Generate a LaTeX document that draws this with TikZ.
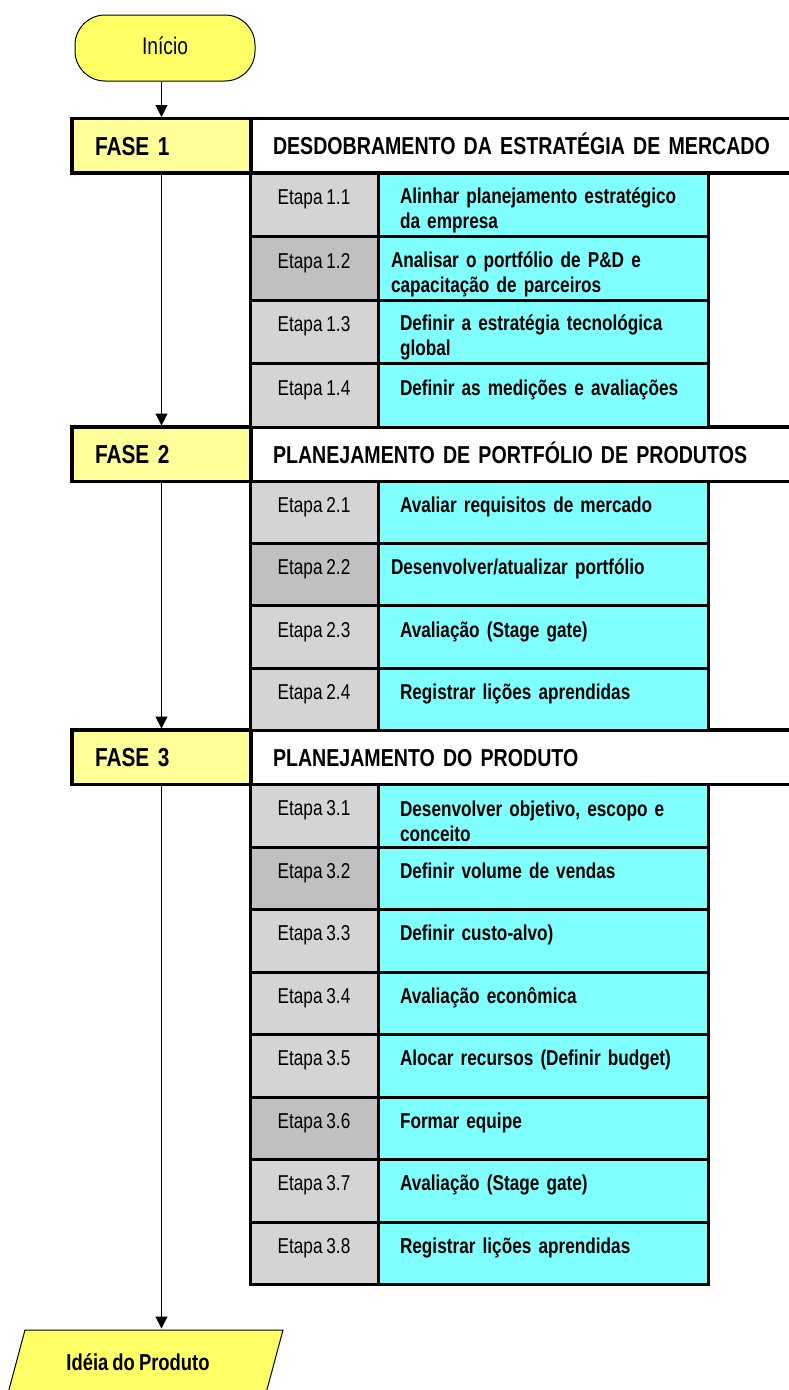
\documentclass[tikz,border=0pt]{standalone}
\usepackage{fontspec}
\setmainfont[FakeStretch=0.8, WordSpace=0.8]{Liberation Sans}
\usetikzlibrary{arrows.meta}
\setlength{\parindent}{0pt}

\definecolor{cinza}{HTML}{D4D4D4}
\definecolor{cinzaesc}{HTML}{C0C0C0}
\definecolor{ciano}{HTML}{80FFFF}
\definecolor{amarelo}{HTML}{FFFF66}
\definecolor{amareloclaro}{HTML}{FFFF99}

\tikzset{
  fase/.style={draw, line width=3.5pt, fill=amareloclaro, anchor=north west, outer sep=0pt,
    minimum height=54.5pt, inner xsep=23pt, inner ysep=0pt, text width=133pt, align=left,
    text height=18.5pt, text depth=0pt, font=\bfseries\fontsize{26}{30}\selectfont},
  titulo/.style={fase, fill=white, inner xsep=22pt, text width=540pt,
    text height=18pt, font=\bfseries\fontsize{24.5}{30}\selectfont},
  etapa/.style={draw, line width=3pt, fill=cinza, anchor=north west, outer sep=0pt, inner sep=0pt,
    minimum width=128pt, text height=18pt, text depth=18pt, font=\fontsize{21.5}{25}\selectfont},
  etapaesc/.style={etapa, fill=cinzaesc},
  passo/.style={draw, line width=3pt, fill=ciano, anchor=north west, outer sep=0pt,
    inner xsep=22pt, inner ysep=0pt, text width=286pt, align=left,
    font=\bfseries\fontsize{21.5}{25}\selectfont},
  umalinha/.style={text height=18pt, text depth=18pt},
  recuo/.style={inner xsep=13pt, text width=304pt},
  seta/.style={line width=1pt, -{Triangle[length=12pt, width=12pt]}, shorten >=1.5pt}
}

\begin{document}
\begin{tikzpicture}[x=1pt, y=-1pt]
  \useasboundingbox (0,0) rectangle (789,1390);

  \node[draw, line width=1pt, fill=amarelo, rounded corners=30pt, minimum width=180pt,
    minimum height=66pt, inner sep=0pt, text height=17pt, text depth=5pt,
    font=\fontsize{24}{28}\selectfont] (inicio) at (165,48) {Início};

  % fases
  \node[fase] (f1) at (72,118.5) {FASE 1};
  \node[titulo] (t1) at (251,118.5) {DESDOBRAMENTO DA ESTRATÉGIA DE MERCADO};
  \node[fase] (f2) at (72,427) {FASE 2};
  \node[titulo] (t2) at (251,427) {PLANEJAMENTO DE PORTFÓLIO DE PRODUTOS};
  \node[fase] (f3) at (72,730) {FASE 3};
  \node[titulo] (t3) at (251,730) {PLANEJAMENTO DO PRODUTO};

  % etapas da fase 1
  \begin{scope}[every node/.style={minimum height=63.5pt}]
    \node[etapa] (e11) at (250,173) {Etapa 1.1};
    \node[passo] (p11) at (378,173) {\rule{0pt}{27pt}Alinhar planejamento estratégico\\da empresa};
    \node[etapaesc] (e12) at (250,236.5) {Etapa 1.2};
    \node[passo, recuo] (p12) at (378,236.5) {\rule{0pt}{27pt}Analisar o portfólio de P\&D e\\capacitação de parceiros};
    \node[etapa] (e13) at (250,300) {Etapa 1.3};
    \node[passo] (p13) at (378,300) {\rule{0pt}{27pt}Definir a estratégia tecnológica\\global};
    \node[etapa] (e14) at (250,363.5) {Etapa 1.4};
    \node[passo, umalinha] (p14) at (378,363.5) {Definir as medições e avaliações};
  \end{scope}

  % etapas da fase 2
  \begin{scope}[every node/.style={minimum height=62.2pt}]
    \node[etapa] (e21) at (250,481.5) {Etapa 2.1};
    \node[passo, umalinha] (p21) at (378,481.5) {Avaliar requisitos de mercado};
    \node[etapaesc] (e22) at (250,543.7) {Etapa 2.2};
    \node[passo, umalinha, recuo] (p22) at (378,543.7) {Desenvolver/atualizar portfólio};
    \node[etapa] (e23) at (250,605.9) {Etapa 2.3};
    \node[passo, umalinha] (p23) at (378,605.9) {Avaliação (Stage gate)};
    \node[etapa] (e24) at (250,668.1) {Etapa 2.4};
    \node[passo, umalinha] (p24) at (378,668.1) {Registrar lições aprendidas};
  \end{scope}

  % etapas da fase 3
  \begin{scope}[every node/.style={minimum height=62.5pt}]
    \node[etapa] (e31) at (250,784.5) {Etapa 3.1};
    \node[passo] (p31) at (378,784.5) {\rule{0pt}{27pt}Desenvolver objetivo, escopo e\\conceito};
    \node[etapaesc] (e32) at (250,847) {Etapa 3.2};
    \node[passo, umalinha] (p32) at (378,847) {Definir volume de vendas};
    \node[etapa] (e33) at (250,909.5) {Etapa 3.3};
    \node[passo, umalinha] (p33) at (378,909.5) {Definir custo-alvo)};
    \node[etapa] (e34) at (250,972) {Etapa 3.4};
    \node[passo, umalinha] (p34) at (378,972) {Avaliação econômica};
    \node[etapa] (e35) at (250,1034.5) {Etapa 3.5};
    \node[passo, umalinha] (p35) at (378,1034.5) {Alocar recursos (Definir budget)};
    \node[etapaesc] (e36) at (250,1097) {Etapa 3.6};
    \node[passo, umalinha] (p36) at (378,1097) {Formar equipe};
    \node[etapa] (e37) at (250,1159.5) {Etapa 3.7};
    \node[passo, umalinha] (p37) at (378,1159.5) {Avaliação (Stage gate)};
    \node[etapa] (e38) at (250,1222) {Etapa 3.8};
    \node[passo, umalinha] (p38) at (378,1222) {Registrar lições aprendidas};
  \end{scope}

  % saida
  \draw[line width=1pt, fill=amarelo] (25,1330) -- (283,1330) -- (265,1397) -- (7,1397) -- cycle;
  \coordinate (topo) at (161.5,1330);
  \node[anchor=base, font=\bfseries\fontsize{23}{28}\selectfont] (ideia) at (138,1370) {Idéia do Produto};

  \draw[seta] (f1.north |- inicio.south) -- (f1.north);
  \draw[seta] (f1.south) -- (f2.north);
  \draw[seta] (f2.south) -- (f3.north);
  \draw[seta] (f3.south) -- (topo);

\end{tikzpicture}
\end{document}
